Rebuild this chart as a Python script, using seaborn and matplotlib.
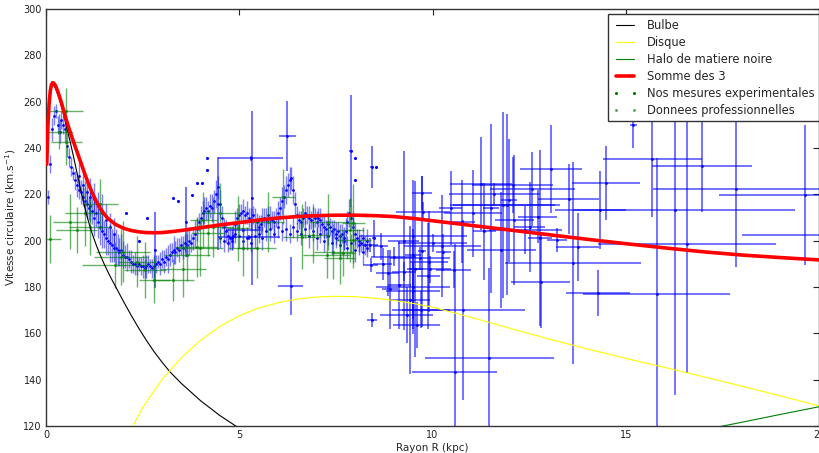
import matplotlib
matplotlib.use("Agg")
import matplotlib.pyplot as plt
import numpy as np
import pandas as pd
import seaborn as sns
from matplotlib.lines import Line2D

# ---------------- model components (tabulated, km/s vs kpc) ----------------
r_bulge = [0.02, 0.05, 0.08, 0.11, 0.14, 0.17, 0.2, 0.25, 0.3, 0.35, 0.4, 0.45,
           0.5, 0.6, 0.7, 0.8, 0.9, 1.0, 1.1, 1.2, 1.3, 1.4, 1.5, 1.6, 1.7, 1.8,
           2.0, 2.2, 2.4, 2.6, 2.8, 3.0, 3.2, 3.5, 4.0, 4.5, 5.0, 5.5, 6.0]
v_bulge = [233, 250, 258.5, 263.5, 266.2, 267.2, 267, 265.6, 263.4, 260.8, 258,
           255, 251.5, 244.5, 237.2, 229.4, 221.8, 214.6, 208.2, 202.8, 198.1,
           193.9, 190.1, 186.6, 183.3, 180.2, 173.9, 167.9, 162.2, 156.9, 152.0,
           147.6, 143.5, 138.4, 130.9, 124.5, 119.0, 114.0, 109.4]

r_disk = [0, 0.5, 1.0, 1.5, 2.0, 2.5, 3.0, 3.5, 4.0, 4.5, 5.0, 5.5, 6.0, 6.5, 7.0,
          7.5, 8.0, 8.5, 9.0, 9.5, 10, 11, 12, 13, 14, 15, 16, 17, 18, 19, 20]
v_disk = [0, 30, 62, 90, 112, 128, 140, 149.5, 157, 163, 167.6, 170.9, 173.2,
          174.8, 175.7, 176.0, 175.8, 175.2, 174.2, 172.9, 171.3, 166.9, 162.2,
          157.6, 153.3, 149.2, 145.3, 141.3, 137.2, 133.0, 128.7]

r_halo = [0, 2, 4, 6, 8, 10, 12, 14, 16, 17, 18, 19, 20]
v_halo = [0, 25, 45, 62, 76, 88, 98, 107, 114.5, 118.3, 121.6, 125, 128.3]

r_total = [0.02, 0.05, 0.08, 0.11, 0.14, 0.17, 0.2, 0.25, 0.3, 0.35, 0.4, 0.5,
           0.6, 0.7, 0.8, 0.9, 1.0, 1.1, 1.2, 1.3, 1.4, 1.5, 1.6, 1.8, 2.0, 2.2,
           2.4, 2.6, 2.8, 3.0, 3.25, 3.5, 3.75, 4.0, 4.5, 5.0, 5.5, 6.0, 6.5, 7.0,
           7.5, 8.0, 8.5, 9.0, 9.5, 10, 11, 12, 13, 14, 15, 16, 17, 18, 19, 20]
v_total = [233, 250, 259, 264.5, 267.3, 268.2, 268, 266.8, 264.6, 262.1, 259.5,
           253.5, 248.2, 243.2, 238.5, 233.8, 229, 224.5, 220.5, 217, 214, 211.6,
           209.6, 207, 205.4, 204.4, 203.8, 203.5, 203.4, 203.5, 203.9, 204.4,
           205.0, 205.6, 206.8, 207.8, 208.9, 209.8, 210.4, 210.8, 211.0, 211.0,
           210.8, 210.4, 209.6, 208.6, 206.6, 204.6, 202.6, 200.6, 198.7, 196.9,
           195.2, 193.8, 192.7, 191.7]

# ---------------- our own measurements ----------------
ours_r = [0.10, 0.34, 0.53, 0.53, 0.62, 0.79, 1.00, 1.14, 1.40, 1.79, 1.95, 2.00,
          2.35, 2.56, 2.80, 3.29, 3.55, 3.64, 3.90, 3.98, 4.07, 4.20, 4.33, 4.50,
          4.98, 5.10, 5.45, 5.75, 6.14, 6.62, 6.90, 7.26, 7.30, 7.43, 7.60, 7.69,
          7.87, 7.95, 7.95]
ours_v = [200.6, 247.0, 256.0, 242.5, 208.2, 204.6, 211.8, 206.0, 215.7, 189.5,
          193.0, 195.3, 191.0, 187.4, 183.0, 183.0, 187.7, 193.8, 197.4, 196.7,
          208.9, 203.5, 206.0, 212.0, 205.3, 196.7, 196.7, 208.2, 219.0, 201.7,
          202.5, 193.8, 208.0, 195.3, 192.4, 194.6, 204.6, 207.5, 200.3]
ours_xerr = [0.28, 0.35, 0.44, 0.39, 0.45, 0.52, 0.50, 0.55, 0.45, 0.86, 0.70, 0.70,
             0.50, 0.55, 0.40, 0.54, 0.60, 0.60, 0.55, 0.60, 0.35, 0.45, 0.50, 0.50,
             0.30, 0.40, 0.50, 0.40, 0.30, 0.50, 0.40, 0.60, 0.50, 0.50, 0.40, 0.30,
             0.35, 0.30, 0.45]
ours_yerr = [10.4, 7.5, 10, 10, 12, 10, 14, 12, 11, 10, 12, 13, 11, 12, 10, 9, 12,
             11, 13, 12, 12, 10, 13, 13, 14, 12, 13, 13, 12, 14, 12, 10, 12, 12, 11,
             10, 14, 17, 12]

# ---------------- published data: dense inner survey ----------------
survey_r = [0.05, 0.10, 0.15, 0.20, 0.25, 0.30, 0.35, 0.40, 0.45, 0.50,
            0.55, 0.60, 0.65, 0.70, 0.75, 0.80, 0.85, 0.90, 0.95, 1.00,
            1.05, 1.10, 1.15, 1.20, 1.25, 1.30, 1.35, 1.40, 1.45, 1.50,
            1.55, 1.60, 1.65, 1.70, 1.75, 1.80, 1.85, 1.90, 1.95, 2.00,
            2.05, 2.10, 2.15, 2.20, 2.25, 2.30, 2.35, 2.40, 2.45, 2.50,
            2.55, 2.60, 2.65, 2.70, 2.75, 2.80, 2.85, 2.90, 2.95, 3.00,
            3.05, 3.10, 3.15, 3.20, 3.25, 3.30, 3.35, 3.40, 3.45, 3.50,
            3.55, 3.60, 3.65, 3.70, 3.75, 3.80, 3.85, 3.90, 3.95, 4.00,
            4.05, 4.10, 4.15, 4.20, 4.25, 4.30, 4.35, 4.40, 4.45, 4.50,
            4.55, 4.60, 4.65, 4.70, 4.75, 4.80, 4.85, 4.90, 4.95, 5.00,
            5.05, 5.10, 5.15, 5.20, 5.25, 5.30, 5.35, 5.40, 5.45, 5.50,
            5.55, 5.60, 5.65, 5.70, 5.75, 5.80, 5.85, 5.90, 5.95, 6.00,
            6.05, 6.10, 6.15, 6.20, 6.25, 6.30, 6.35, 6.40, 6.45, 6.50,
            6.55, 6.60, 6.65, 6.70, 6.75, 6.80, 6.85, 6.90, 6.95, 7.00,
            7.05, 7.10, 7.15, 7.20, 7.25, 7.30, 7.35, 7.40, 7.45, 7.50,
            7.55, 7.60, 7.65, 7.70, 7.75, 7.80, 7.85, 7.90, 7.95, 8.00,
            8.05, 8.10, 8.15, 8.20, 8.25, 8.30]
survey_v = [219, 233, 248, 254, 256, 250, 247, 252, 250, 248,
            241, 236, 232, 229, 226, 224, 222, 221, 219, 217,
            216, 214, 215, 213, 210, 212, 208, 206, 204, 203,
            201, 200, 199, 198, 197, 197, 196, 195, 196, 194,
            193, 193, 192, 191, 190, 190, 189, 190, 189, 189,
            188, 189, 190, 189, 188, 189, 190, 191, 190, 192,
            191, 193, 192, 194, 195, 196, 195, 197, 196, 198,
            197, 199, 198, 200, 199, 201, 203, 205, 208, 210,
            212, 213, 214, 213, 215, 214, 217, 220, 223, 216,
            210, 206, 204, 202, 201, 200, 202, 207, 210, 211,
            212, 213, 211, 212, 210, 209, 211, 209, 208, 206,
            207, 209, 210, 209, 211, 210, 209, 208, 210, 212,
            214, 217, 219, 222, 224, 226, 227, 222, 216, 211,
            209, 208, 210, 212, 211, 210, 209, 211, 210, 208,
            210, 209, 207, 206, 205, 207, 206, 204, 205, 203,
            204, 202, 203, 201, 204, 208, 212, 210, 206, 203,
            201, 200, 199, 201, 198, 200]
survey_yerr = [3, 4, 5, 4, 3, 4, 5, 4, 4, 5,
               5, 4, 4, 3, 4, 5, 4, 5, 4, 6,
               6, 5, 7, 6, 8, 6, 7, 8, 7, 6,
               7, 6, 8, 7, 6, 8, 7, 6, 7, 6,
               5, 6, 4, 5, 4, 5, 4, 3, 4, 5,
               4, 5, 4, 3, 4, 5, 4, 3, 5, 4,
               5, 4, 6, 5, 4, 6, 5, 4, 5, 4,
               5, 4, 5, 6, 4, 5, 6, 5, 4, 5,
               5, 6, 5, 4, 5, 6, 5, 6, 5, 6,
               5, 4, 5, 4, 5, 4, 5, 6, 4, 5,
               4, 5, 4, 5, 4, 5, 4, 5, 4, 5,
               4, 5, 4, 5, 4, 5, 4, 5, 4, 5,
               5, 6, 5, 6, 5, 6, 5, 6, 5, 4,
               4, 5, 4, 5, 4, 5, 4, 5, 4, 5,
               4, 5, 4, 5, 4, 5, 4, 5, 4, 5,
               4, 5, 4, 5, 6, 5, 6, 5, 4, 5,
               4, 5, 4, 5, 4, 5]

# second branch of the inner survey
branch_r = [0.85, 0.95, 1.05, 1.15, 1.25, 1.35, 1.45, 1.55, 1.65, 1.75,
            4.5, 4.6, 4.7, 4.8, 4.9, 5.0, 5.1, 5.2, 5.3, 5.4, 5.5, 5.6, 5.7,
            5.8, 5.9, 6.0, 6.1, 6.2, 6.3, 6.4, 6.5, 6.6, 6.7, 6.8, 6.9, 7.0,
            7.1, 7.2, 7.3, 7.4, 7.5, 7.6, 7.7, 7.8, 7.9, 8.0, 8.1, 8.2, 8.3]
branch_v = [228, 224, 221, 219, 218, 215, 212, 209, 206, 203,
            201, 200, 199, 201, 203, 202, 200, 201, 199, 202, 203, 201, 204,
            205, 203, 206, 204, 205, 203, 206, 204, 203, 205, 202, 204, 201,
            203, 200, 202, 199, 201, 198, 200, 197, 199, 196, 198, 195, 197]
branch_yerr = [6, 7, 6, 8, 7, 6, 8, 7, 6, 7,
               4, 5, 4, 5, 4, 5, 4, 5, 4, 5, 4, 5, 4,
               5, 4, 5, 4, 5, 4, 5, 4, 5, 4, 5, 4, 5,
               4, 5, 4, 5, 4, 5, 4, 5, 4, 5, 4, 5, 4]

# isolated published points
stray_r = [2.06, 2.62, 2.40, 3.29, 3.42, 3.77, 3.90, 4.03, 4.16, 4.16, 8.00, 8.00, 8.55]
stray_v = [212.1, 209.7, 200.0, 218.3, 217.0, 219.7, 224.8, 224.8, 235.6, 230.5,
           235.6, 226.0, 232.0]

# published points with large uncertainties
wide_r = [2.82, 3.62, 4.46, 5.30, 5.32, 5.25, 5.10, 6.24, 6.33, 7.88,
          8.43, 8.49, 8.38, 8.40, 8.43, 8.66, 8.71, 8.84, 8.90, 9.00,
          9.14, 9.25, 9.26, 9.33, 9.42, 9.50, 9.50, 9.50, 9.55, 9.59,
          9.68, 9.72, 9.73, 9.89, 9.91, 9.70, 9.94, 9.75, 9.50, 10.00,
          10.28, 10.25, 10.47, 10.55, 10.57, 10.76, 10.80, 11.06, 11.26, 11.34,
          11.47, 11.51, 11.60, 11.78, 11.82, 11.92, 11.98, 12.07, 12.12, 12.40,
          12.52, 12.58, 12.72, 12.78, 12.80, 13.06, 13.22, 13.52, 13.64, 13.76,
          14.28, 14.33, 14.48, 15.20, 15.69, 15.80, 16.27, 16.58, 16.97, 17.86,
          19.64, 20.30]
wide_v = [196.0, 208.0, 216.0, 235.6, 218.5, 201.5, 204.6, 245.2, 180.5, 238.7,
          231.8, 201.0, 198.0, 189.5, 165.8, 197.5, 190.0, 186.0, 179.0, 193.1,
          180.8, 200.0, 186.6, 168.0, 174.4, 179.9, 178.3, 194.0, 187.8, 163.6,
          192.4, 195.4, 220.7, 184.8, 191.0, 170.1, 187.6, 212.5, 202.2, 198.9,
          195.0, 197.8, 214.1, 187.4, 143.5, 208.2, 170.1, 211.8, 224.6, 204.0,
          149.2, 213.9, 220.0, 196.0, 215.4, 215.6, 217.4, 224.0, 209.0, 204.6,
          206.0, 222.4, 210.4, 201.3, 182.3, 231.1, 200.3, 217.9, 190.2, 197.4,
          177.3, 213.2, 225.0, 250.0, 235.1, 177.0, 213.2, 198.4, 232.2, 222.2,
          219.7, 202.5]
wide_xerr = [0.02, 0.02, 0.02, 0.84, 0.02, 0.80, 0.45, 0.22, 0.32, 0.05,
             0.05, 0.05, 0.20, 0.20, 0.13, 0.20, 0.25, 0.30, 0.20, 0.58,
             0.30, 0.40, 0.32, 0.69, 0.52, 0.95, 0.70, 0.20, 0.20, 0.60,
             0.78, 0.10, 0.25, 0.30, 0.50, 0.75, 0.55, 0.70, 1.40, 0.90,
             0.20, 1.00, 0.30, 0.45, 1.09, 0.35, 1.60, 0.75, 0.80, 0.30,
             1.67, 0.20, 1.17, 0.90, 1.36, 1.38, 0.20, 1.06, 0.50, 0.95,
             0.40, 1.10, 0.50, 0.30, 0.77, 0.80, 0.25, 0.80, 1.76, 0.56,
             0.83, 0.67, 0.88, 0.10, 1.27, 1.90, 3.10, 2.30, 1.30, 2.16,
             2.24, 2.30]
wide_yerr = [16.5, 15.0, 20.0, 1.0, 37.6, 1.0, 1.0, 15.0, 12.6, 24.0,
             9.0, 8.0, 3.0, 3.0, 3.0, 6.0, 7.0, 10.0, 17.0, 4.0,
             19.0, 38.5, 4.0, 12.0, 32.0, 20.0, 12.0, 32.0, 37.8, 10.0,
             5.0, 32.5, 7.3, 23.0, 22.0, 8.0, 6.0, 4.0, 3.0, 4.0,
             8.0, 22.0, 16.0, 8.0, 55.0, 18.0, 38.8, 18.7, 20.0, 21.0,
             39.0, 36.5, 5.0, 25.0, 40.0, 39.0, 26.6, 12.0, 28.0, 10.5,
             19.4, 16.0, 11.5, 38.0, 20.0, 19.0, 5.0, 15.0, 43.6, 14.7,
             10.0, 17.0, 16.0, 10.0, 25.0, 58.6, 80.0, 55.6, 20.0, 33.4,
             30.2, 5.0]

x_ticks = [0, 5, 10, 15, 20]
y_ticks = [120, 140, 160, 180, 200, 220, 240, 260, 280, 300]

# ---------------- figure ----------------
sns.set_style("white")
plt.rcParams["font.family"] = ["DejaVu Sans"]

fig = plt.figure(figsize=(8.2, 4.53), dpi=100)
ax = fig.add_axes([0.0561, 0.0596, 0.9427, 0.9205])

BLUE = "#0000ff"
GREEN = "#008000"

# published data: error bars, then opaque centre dots
for rr, vv, ee in [(survey_r, survey_v, survey_yerr), (branch_r, branch_v, branch_yerr)]:
    ax.errorbar(rr, vv, yerr=ee, fmt="none", ecolor=BLUE, elinewidth=1.0,
                alpha=0.5, capsize=0, zorder=2)
    sns.scatterplot(x=rr, y=vv, ax=ax, color=BLUE, s=4, linewidth=0, zorder=2.5)

ax.errorbar(wide_r, wide_v, xerr=wide_xerr, yerr=wide_yerr, fmt="none",
            ecolor=BLUE, elinewidth=1.1, alpha=0.7, capsize=0, zorder=2)
sns.scatterplot(x=wide_r, y=wide_v, ax=ax, color=BLUE, s=4, linewidth=0, zorder=2.5)
sns.scatterplot(x=stray_r, y=stray_v, ax=ax, color=BLUE, s=5, linewidth=0, zorder=2.5)

# our measurements
ax.errorbar(ours_r, ours_v, xerr=ours_xerr, yerr=ours_yerr, fmt=".", color=GREEN,
            ecolor=GREEN, elinewidth=1.0, markersize=2.5, alpha=0.6, capsize=0,
            zorder=3)

# model curves
models = [
    (r_bulge, v_bulge, "black", 0.8),
    (r_disk, v_disk, "#ffff00", 0.8),
    (r_halo, v_halo, GREEN, 0.8),
    (r_total, v_total, "red", 2.6),
]
for rr, vv, col, lw in models:
    df = pd.DataFrame({"r": rr, "v": vv})
    sns.lineplot(data=df, x="r", y="v", ax=ax, color=col, linewidth=lw,
                 sort=False, estimator=None, zorder=5)

ax.set_xlim(0, 20)
ax.set_ylim(120, 300)
ax.set_xticks(x_ticks)
ax.set_yticks(y_ticks)
ax.tick_params(direction="in", length=4, width=0.8, labelsize=7,
               top=True, right=True, pad=3, colors="#222222")
for sp in ax.spines.values():
    sp.set_color("#333333")
    sp.set_linewidth(1.0)

ax.set_xlabel("Rayon R (kpc)", fontsize=7.5, labelpad=2)
ax.set_ylabel("Vitesse circulaire (km.s$^{-1}$)", fontsize=7.5, labelpad=4)

handles = [
    Line2D([], [], color="black", lw=0.8),
    Line2D([], [], color="#ffff00", lw=0.8),
    Line2D([], [], color=GREEN, lw=0.8),
    Line2D([], [], color="red", lw=2.6),
    Line2D([], [], color=GREEN, ls="none", marker=".", markersize=2.5),
    Line2D([], [], color=GREEN, ls="none", marker=".", markersize=2.5, alpha=0.5),
]
labels = ["Bulbe", "Disque", "Halo de matiere noire", "Somme des 3",
          "Nos mesures experimentales", "Donnees professionnelles"]
leg = ax.legend(handles, labels, loc="upper right", bbox_to_anchor=(1.0, 0.988),
                borderaxespad=0, numpoints=2, fontsize=8.3, frameon=True,
                fancybox=False, framealpha=1, edgecolor="#333333",
                handlelength=2.2, labelspacing=0.35, borderpad=0.4)
leg.get_frame().set_linewidth(1.0)
leg.set_zorder(10)

fig.savefig("out.png", dpi=100)
